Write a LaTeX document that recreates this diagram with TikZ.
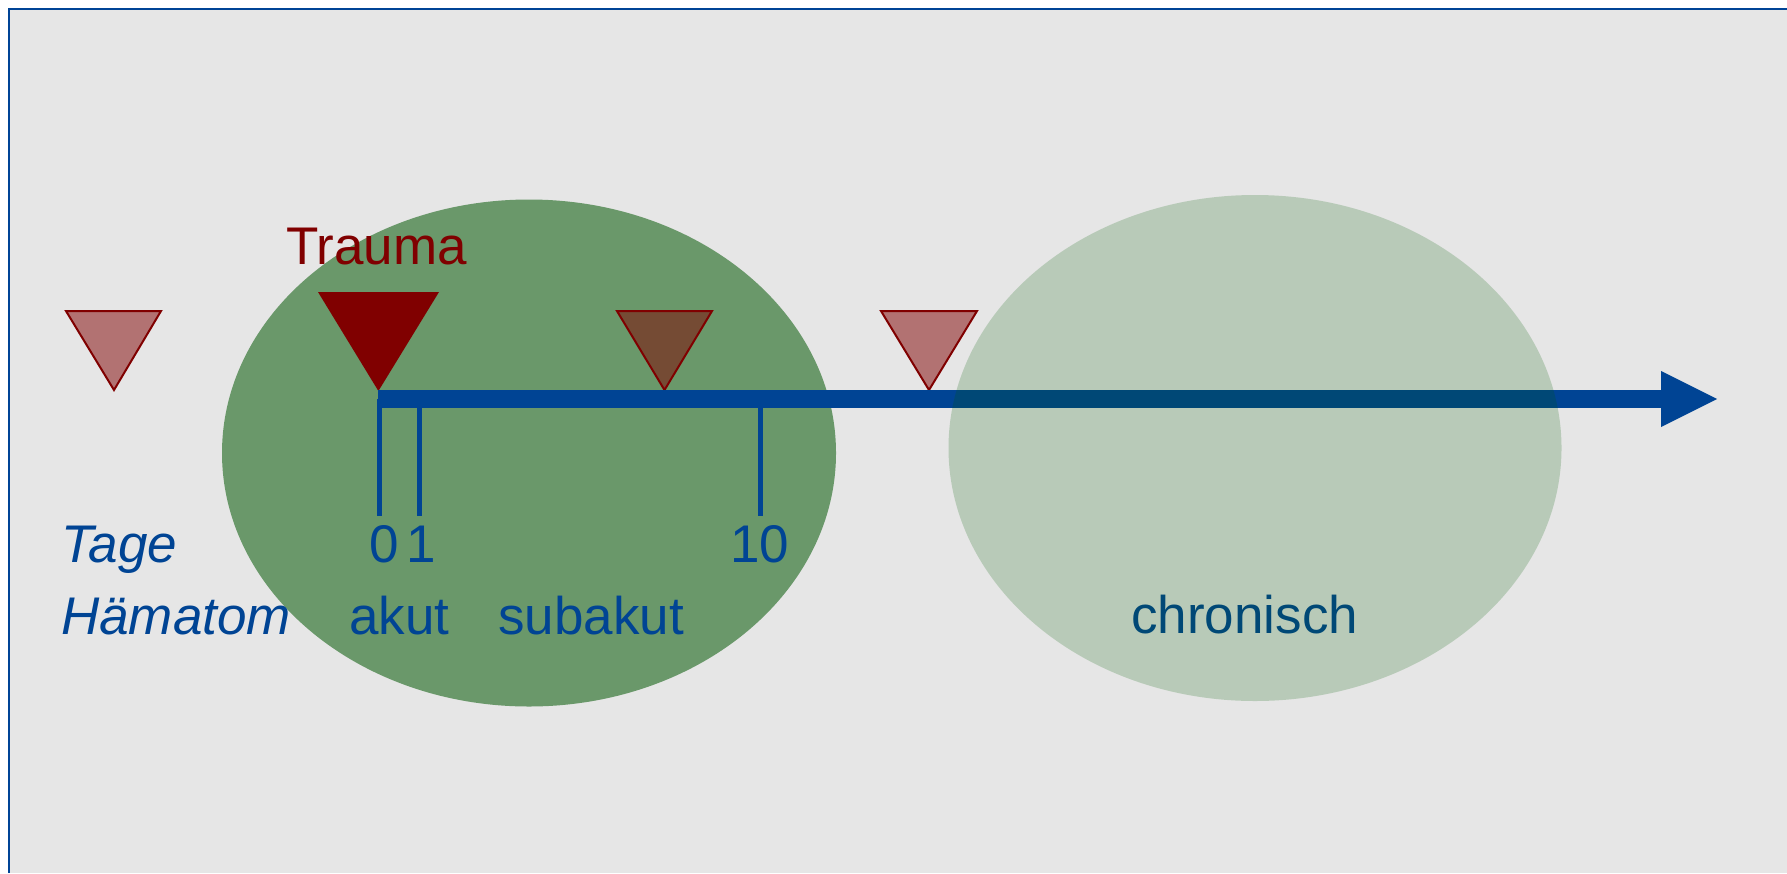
\documentclass[tikz,border=0pt]{standalone}
\usepackage{fontspec}
\setmainfont{Liberation Sans}
\usetikzlibrary{arrows.meta,shapes.geometric}
\definecolor{bgray}{RGB}{230,230,230}
\definecolor{tblue}{RGB}{0,68,148}
\definecolor{frameblue}{RGB}{0,68,150}
\definecolor{dred}{RGB}{128,0,0}
\definecolor{dgreen}{RGB}{106,152,106}
\definecolor{lgreen}{RGB}{0,92,0}
\begin{document}
\begin{tikzpicture}[x=1pt,y=-1pt,
  lbl/.style={inner sep=0pt, anchor=base west, text=tblue, font=\fontsize{53}{60}\selectfont},
  ilbl/.style={lbl, font=\fontsize{53}{60}\selectfont\itshape},
  tri/.style={fill=dred, fill opacity=0.5, draw=dred, draw opacity=1, line width=2pt, line join=miter},
  tickline/.style={draw=tblue, line width=5pt},
  phase/.style={ellipse, inner sep=0pt, draw=none}]
\useasboundingbox (0,0) rectangle (1787,873);
\fill[white] (0,0) rectangle (1787,873);
\fill[bgray] (9,9) rectangle (1787,873);
\draw[frameblue, line width=2.5pt] (9,873) -- (9,9) -- (1787,9);

% acute/subacute phase ellipse
\node[phase, fill=dgreen, minimum width=614pt, minimum height=507pt] (acute) at (529,453) {};

% triangles
\filldraw[tri] (66,311) -- (161,311) -- (114,390) -- cycle;
\filldraw[tri] (617,311) -- (712,311) -- (664.5,390) -- cycle;
\filldraw[tri] (881,311) -- (977,311) -- (929,390) -- cycle;
\fill[dred] (318,292) -- (439,292) -- (378.4,391) -- cycle;

% timeline
\coordinate (axisstart) at (378.4,399);
\coordinate (axisend) at (1717,399);
\draw[tblue, line width=18pt, -{Triangle[length=56pt,width=56pt,line width=0pt]}] (axisstart) -- (axisend);

% ticks
\coordinate (k0a) at (379.5,399); \coordinate (k0b) at (379.5,516);
\coordinate (k1a) at (419,399);   \coordinate (k1b) at (419,516);
\coordinate (k10a) at (760,399);  \coordinate (k10b) at (760,516);
\draw[tickline] (k0a) -- (k0b);
\draw[tickline] (k1a) -- (k1b);
\draw[tickline] (k10a) -- (k10b);

% labels
\node[lbl, text=dred] (trauma) at (286,264) {Trauma};
\node[ilbl] (tage) at (61,562) {Tage};
\node[ilbl] (haematom) at (61,634) {Hämatom};
\node[lbl] (d0) at (369,562) {0};
\node[lbl] (d1) at (406,562) {1};
\node[lbl] (d10) at (730,562) {10};
\node[lbl] (akut) at (349,634) {akut};
\node[lbl] (subakut) at (498,634) {subakut};
\node[lbl] (chron) at (1131,633) {chronisch};

% chronic phase ellipse (translucent, on top)
\node[phase, fill=lgreen, fill opacity=0.2, minimum width=613pt, minimum height=506pt] (chronic) at (1255,448) {};
\end{tikzpicture}
\end{document}
